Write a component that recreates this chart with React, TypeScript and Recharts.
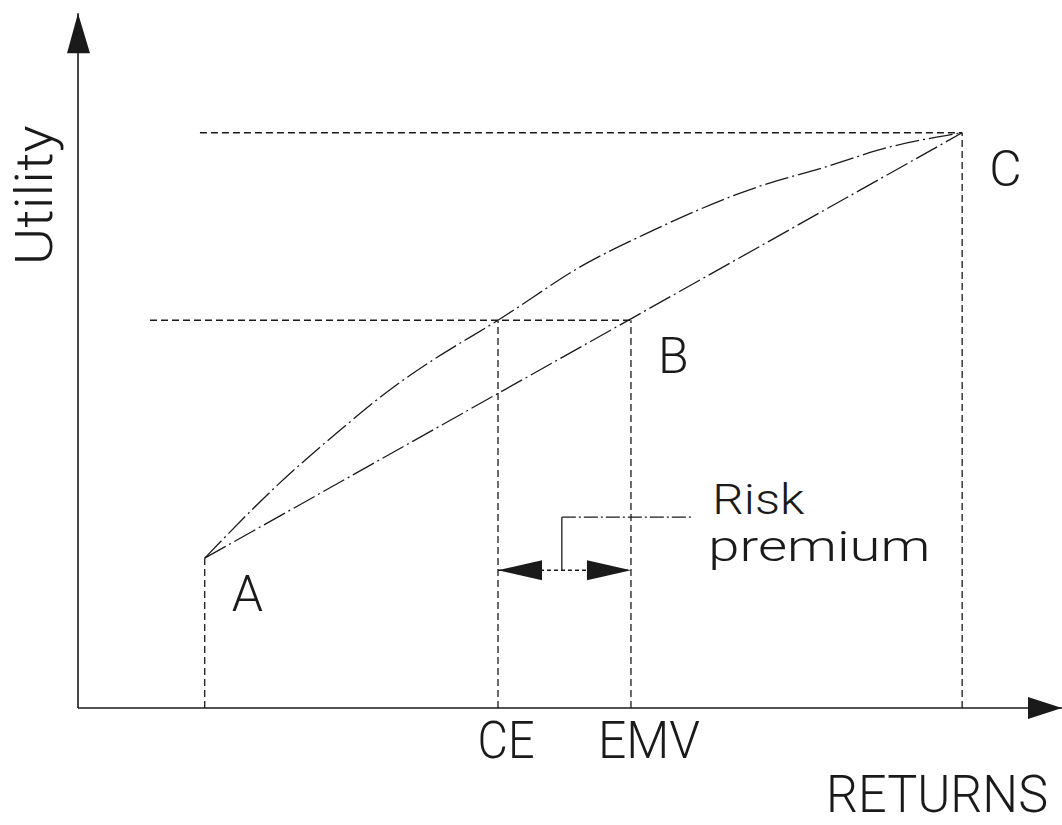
import { ComposedChart, Line, XAxis, YAxis, ReferenceLine, ReferenceDot } from 'recharts';

// returns (x) and utility (y), both on a 0-100 scale
const outcomeNames = ['A', 'B', 'C'];
const outcomeReturns = [13.2, 57.6, 92.1];
const outcomeUtility = [22.3, 57.7, 85.6];

// concave utility curve
const curveReturns = [13.2, 20.8, 27.1, 33.2, 37.0, 43.75, 53.0, 58.9, 70.7, 77.6, 84.6, 92.1];
const curveUtility = [22.3, 33.2, 41.1, 48.1, 51.8, 57.7, 66.2, 70.4, 77.5, 80.4, 83.5, 85.6];

const tickLabels = ['CE', 'EMV'];
const tickReturns = [43.75, 57.6];
const certaintyUtility = 57.7;

const riskPremiumUtility = 20.5;
const bracketReturn = 50.4;
const bracketUtility = 28.4;
const bracketEndReturn = 64.1;

const xAxisEnd = 102.5;
const yAxisEnd = 103.4;

const INK = '#1a1a1a';
const FONT = 'Roboto, "DejaVu Sans", sans-serif';

const curveData = curveReturns.map((r, i) => ({ r, u: curveUtility[i] }));
const chordData = [
  { r: outcomeReturns[0], u: outcomeUtility[0] },
  { r: outcomeReturns[2], u: outcomeUtility[2] },
];

// thin lettering; width is forced to what the drawing shows
const txt = (
  x: number,
  y: number,
  value: string,
  size = 50,
  anchor: 'start' | 'middle' | 'end' = 'start',
  width?: number
) => (
  <text
    x={x}
    y={y}
    textAnchor={anchor}
    fontFamily={FONT}
    fontWeight={300}
    fontSize={size}
    fill={INK}
    textLength={width}
    lengthAdjust={width ? 'spacingAndGlyphs' : undefined}
  >
    {value}
  </text>
);

const dashed = { stroke: INK, strokeWidth: 1.3, strokeDasharray: '7 4' };

export default function App() {
  return (
    <div style={{ position: 'absolute', left: 0, top: 0, background: '#fff' }}>
      <ComposedChart width={1062} height={825} margin={{ top: 36, right: 24, bottom: 117, left: 78 }}>
        <XAxis type="number" dataKey="r" domain={[0, 100]} hide allowDataOverflow />
        <YAxis type="number" domain={[0, 100]} hide allowDataOverflow />

        {/* axes */}
        <ReferenceLine segment={[{ x: 0, y: 0 }, { x: xAxisEnd, y: 0 }]} stroke={INK} strokeWidth={1.6} ifOverflow="visible" />
        <ReferenceLine segment={[{ x: 0, y: 0 }, { x: 0, y: yAxisEnd }]} stroke={INK} strokeWidth={1.6} ifOverflow="visible" />
        <ReferenceDot
          x={0}
          y={yAxisEnd}
          ifOverflow="visible"
          shape={(p: any) => (
            <polygon points={`${p.cx},${p.cy} ${p.cx - 11},${p.cy + 40} ${p.cx + 12},${p.cy + 40}`} fill={INK} />
          )}
        />
        <ReferenceDot
          x={xAxisEnd}
          y={0}
          ifOverflow="visible"
          shape={(p: any) => (
            <polygon points={`${p.cx},${p.cy} ${p.cx - 34},${p.cy - 11} ${p.cx - 34},${p.cy + 11}`} fill={INK} />
          )}
        />

        {/* guide lines */}
        <ReferenceLine segment={[{ x: 12.7, y: outcomeUtility[2] }, { x: outcomeReturns[2], y: outcomeUtility[2] }]} {...dashed} />
        <ReferenceLine segment={[{ x: 7.5, y: certaintyUtility }, { x: tickReturns[1], y: certaintyUtility }]} {...dashed} />
        <ReferenceLine segment={[{ x: outcomeReturns[0], y: 0 }, { x: outcomeReturns[0], y: outcomeUtility[0] }]} {...dashed} />
        <ReferenceLine segment={[{ x: tickReturns[0], y: 0 }, { x: tickReturns[0], y: certaintyUtility }]} {...dashed} />
        <ReferenceLine segment={[{ x: tickReturns[1], y: 0 }, { x: tickReturns[1], y: certaintyUtility }]} {...dashed} />
        <ReferenceLine segment={[{ x: outcomeReturns[2], y: 0 }, { x: outcomeReturns[2], y: outcomeUtility[2] }]} {...dashed} />

        {/* utility curve and chord */}
        <Line data={curveData} dataKey="u" type="monotone" stroke={INK} strokeWidth={1.3} strokeDasharray="24 4 2 4" dot={false} isAnimationActive={false} />
        <Line data={chordData} dataKey="u" type="linear" stroke={INK} strokeWidth={1.3} strokeDasharray="24 4 2 4" dot={false} isAnimationActive={false} />

        {/* risk premium */}
        <ReferenceLine segment={[{ x: tickReturns[0], y: riskPremiumUtility }, { x: tickReturns[1], y: riskPremiumUtility }]} stroke={INK} strokeWidth={1.3} strokeDasharray="4 3" />
        <ReferenceLine segment={[{ x: bracketReturn, y: riskPremiumUtility }, { x: bracketReturn, y: bracketUtility }]} stroke={INK} strokeWidth={1.3} />
        <ReferenceLine segment={[{ x: bracketReturn, y: bracketUtility }, { x: bracketEndReturn, y: bracketUtility }]} stroke={INK} strokeWidth={1.3} strokeDasharray="14 3 2 3" />
        <ReferenceDot
          x={tickReturns[0]}
          y={riskPremiumUtility}
          shape={(p: any) => (
            <polygon points={`${p.cx},${p.cy} ${p.cx + 44},${p.cy - 10} ${p.cx + 44},${p.cy + 10}`} fill={INK} />
          )}
        />
        <ReferenceDot
          x={tickReturns[1]}
          y={riskPremiumUtility}
          shape={(p: any) => (
            <polygon points={`${p.cx},${p.cy} ${p.cx - 44},${p.cy - 10} ${p.cx - 44},${p.cy + 10}`} fill={INK} />
          )}
        />
        <ReferenceDot
          x={bracketEndReturn}
          y={bracketUtility}
          shape={(p: any) => (
            <g>
              {txt(p.cx + 19, p.cy - 3, 'Risk', 42, 'start', 92)}
              {txt(p.cx + 15, p.cy + 44, 'premium', 42, 'start', 222)}
            </g>
          )}
        />

        {/* point labels */}
        {outcomeNames.map((name, i) => (
          <ReferenceDot
            key={name}
            x={outcomeReturns[i]}
            y={i === 1 ? certaintyUtility : outcomeUtility[i]}
            shape={(p: any) => txt(p.cx + 27, p.cy + 53, name, 50)}
          />
        ))}

        {/* x tick labels */}
        {tickLabels.map((label, i) => (
          <ReferenceDot
            key={label}
            x={tickReturns[i]}
            y={0}
            shape={(p: any) => txt(p.cx + (i === 0 ? 8 : 18), p.cy + 50, label, 52, 'middle', i === 0 ? 57 : 102)}
          />
        ))}

        {/* axis titles */}
        <ReferenceDot x={xAxisEnd} y={0} ifOverflow="visible" shape={(p: any) => txt(p.cx - 14, p.cy + 104, 'RETURNS', 52, 'end', 222)} />
        <ReferenceDot
          x={0}
          y={76.3}
          shape={(p: any) => (
            <g transform={`rotate(-90, ${p.cx - 26}, ${p.cy})`}>{txt(p.cx - 26, p.cy, 'Utility', 52, 'middle', 140)}</g>
          )}
        />
      </ComposedChart>
    </div>
  );
}
